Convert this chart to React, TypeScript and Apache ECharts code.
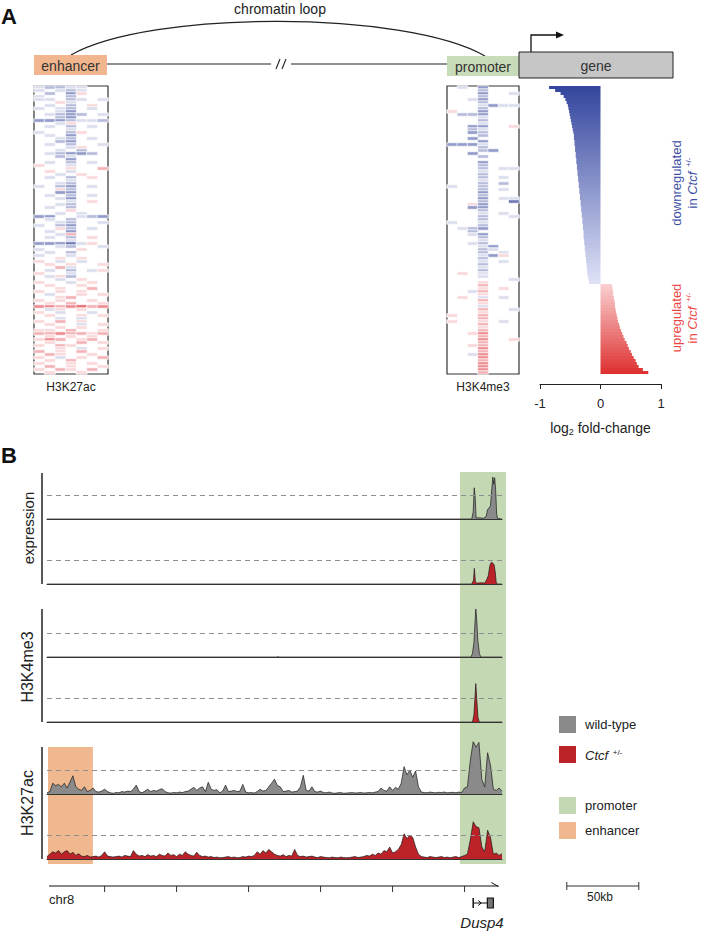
import React, { useEffect, useRef } from "react";
import * as echarts from "echarts";

const FONT = '"Liberation Sans", Arial, Helvetica, sans-serif';

// ---------- Panel A: heatmaps (rows sorted like the fold-change bars) ----------
// '.' = 0, '1'..'4' = -0.25..-1 (blue), 'a'..'d' = 0.25..1 (red)
const heatCode: Record<string, number> = {
  ".": 0, "1": -0.25, "2": -0.5, "3": -0.75, "4": -1,
  a: 0.25, b: 0.5, c: 0.75, d: 1,
};
const heatColumns = ["-3", "-2", "-1", "0", "1", "2", "3"];

const enhancerRows = [
  "12211..", "1.121..", ".2.3a..", "1..2...", "11.21.1", "..a1...", ".1.2.a.", "1.12.1.",
  "..13...", ".1232.1", "..23...", "3332112", "..1a...", ".1.2.1.", "...1...", "1..2a..",
  ".1.3...", "..12.1.", "..23...", ".1.2..1", "...1a..", "..1.2..", ".12332.", "..21...",
  "...3...", ".1.2.1.", "a..1...", "...a..b", ".a.1...", "..1.a..", ".1.2.a.", "...1...",
  "..12...", "1.23.1.", "..a2...", "..33...", ".1.2.1.", "..13...", "...1.a.", "..12...",
  ".1.2...", "...a...", "..1.1..", "33..123", ".1.2...", "..12..1", "1.23...", "..a2.1.",
  ".1.3...", "..1b...", ".1.2.a.", "...1...", "33341a.", "..12..1", "1...a..", ".1.2...",
  "1..1...", "..a.a..", "a.1.1..", ".a.a..a", "..b1...", ".1.2.1a", "a..1...", ".1a2...",
  "..1.a..", "a..1.a.", ".a..a..", "..a..b.", "a.a.a..", ".1..a.a", "..ab...", "a.a..a.",
  ".a.b..a", "ccbcdbc", ".1a.a..", "a.1..1.", ".a..a.a", "..1.1..", "a.b.a..", ".a..1.a",
  "..a.a..", "aa.b..a", "bbcbbab", ".a.a.a.", "acb.ab.", ".a..b.a", "a.ba...", "..a.1.a",
  "b.a.b..", ".ba..a.", "a.1.a.b", ".a.b...", "a..a.a.", ".b.a..a", "a.ba.b.", ".a..a..",
];

const promoterRows = [
  ".1.3...", "...2...", "...3..1", "...2...", "..13...", "...2...", "...1311", "...2...",
  "a..3...", ".223...", "...1...", "...2...", "...1...", "..33..a", "..21...", "..32...",
  "...2...", "..3....", "...3...", "3331...", "...2...", "...23..", "..3....", "...2...",
  ".......", "...3...", "...2...", "...2.11", "...1...", "...2...", "...2.1.", "...1...",
  "...2.2.", "1..2...", "...2.1.", "...3...", "...2...", "...3.11", "...2..4", "..a3...",
  "..33...", "...2...", "...1.1.", "...2..1", "...2...", "1..1...", "...2...", ".123...",
  "..2....", "..13...", "...2...", "...1...", "..12...", "...13..", "...21..", "...2.1.",
  "...13a.", "...2...", "...1.1.", "...2...", "...1...", "...2...", ".a.1...", "...1...",
  "......1", "...a...", "...b...", "...a.a.", "..1b...", "...a...", ".a.1.1.", "...b...",
  "...a...", "...1...", "...b..1", "...a...", "a..b...", "...b...", "a..a.1.", "...b...",
  "...a...", "...b...", "..ac...", "...b...", "...c..a", "...b...", "..ab...", "...c...",
  "...b...", "..1c...", "...c...", "...b...", "...c...", "...c...", "...c...", "...b...",
];

// ---------- Panel A: log2 fold-change bars ----------
const downregulated = [
  -0.85, -0.75, -0.66, -0.61, -0.58, -0.56,
  -0.54, -0.53, -0.52, -0.51, -0.5,
  -0.49, -0.48, -0.47, -0.46, -0.45,
  -0.44, -0.44, -0.43, -0.43, -0.42, -0.42, -0.41, -0.41, -0.4, -0.4,
  -0.39, -0.39, -0.38, -0.38, -0.37, -0.37, -0.36, -0.36, -0.35, -0.35, -0.34, -0.34, -0.33, -0.33, -0.32,
  -0.32, -0.31, -0.31, -0.3, -0.3, -0.29, -0.29, -0.28, -0.28, -0.28, -0.27, -0.27, -0.26, -0.26, -0.25,
  -0.25, -0.24, -0.24, -0.23, -0.23, -0.22, -0.22,
  -0.21, -0.2, -0.19,
];
const upregulated = [
  0.19, 0.2, 0.21, 0.21,
  0.22, 0.23, 0.24, 0.24, 0.25, 0.26,
  0.27, 0.28, 0.29, 0.31, 0.32,
  0.34, 0.36, 0.38, 0.4, 0.43,
  0.45, 0.47, 0.5, 0.52,
  0.55, 0.58, 0.6, 0.63,
  0.7, 0.79,
];
const foldChange = [...downregulated, ...upregulated];
const geneIds = foldChange.map((_, i) => "g" + i);

// ---------- Panel B: tracks (x in kb, y in units of the dashed line) ----------
const expressionWT: [number, number][] = [
  [0, 0], [295, 0], [296, 0.3], [296.7, 1.3], [297.4, 0.9], [298, 0.05], [300, 0.05], [303, 0.03],
  [305, 0.1], [306, 0.4], [307, 0.45], [308, 0.55], [309, 1.3], [309.6, 1.75], [310.3, 1.45],
  [310.9, 1.72], [311.6, 1.2], [312.3, 0.2], [313, 0.02], [316, 0],
];
const expressionCtcf: [number, number][] = [
  [0, 0], [295, 0], [296.2, 0.15], [296.8, 0.65], [297.5, 0.1], [298.5, 0.03], [301, 0.05], [304, 0.04],
  [305.5, 0.2], [306.5, 0.35], [307.5, 0.75], [308.5, 0.9], [309.5, 0.88], [310.5, 0.8], [311.3, 0.5],
  [312, 0.05], [313, 0], [316, 0],
];
const h3k4me3WT: [number, number][] = [
  [0, 0], [160, 0], [160.5, 0.03], [161, 0], [294.5, 0], [295.5, 0.15], [296.5, 0.6], [297.3, 1.5],
  [297.8, 2.0], [298.4, 1.6], [299.2, 0.7], [300.3, 0.15], [301.3, 0], [316, 0],
];
const h3k4me3Ctcf: [number, number][] = [
  [0, 0], [295.5, 0], [296.5, 0.3], [297.3, 1.1], [297.8, 1.6], [298.4, 1.0], [299.3, 0.2], [300.2, 0], [316, 0],
];
const binKb = 2;
const h3k27acWT = [
  0.05, 0.1, 0.45, 0.35, 0.4, 0.3, 0.45, 0.25, 0.5, 0.76,
  0.3, 0.2, 0.15, 0.3, 0.1, 0.15, 0.25, 0.1, 0.08, 0.12,
  0.2, 0.1, 0.05, 0.03, 0.06, 0.05, 0.1, 0.08, 0.12, 0.1,
  0.2, 0.37, 0.1, 0.05, 0.12, 0.2, 0.1, 0.15, 0.12, 0.18,
  0.22, 0.1, 0.05, 0.04, 0.06, 0.05, 0.08, 0.06, 0.1, 0.12,
  0.2, 0.28, 0.15, 0.25, 0.3, 0.1, 0.49, 0.2, 0.15, 0.18,
  0.05, 0.12, 0.37, 0.1, 0.12, 0.15, 0.1, 0.12, 0.4, 0.08,
  0.05, 0.06, 0.04, 0.1, 0.2, 0.12, 0.15, 0.3, 0.45, 0.62,
  0.35, 0.3, 0.1, 0.12, 0.15, 0.08, 0.1, 0.12, 0.3, 0.78,
  0.15, 0.12, 0.3, 0.1, 0.08, 0.12, 0.06, 0.05, 0.08, 0.04,
  0.03, 0.05, 0.06, 0.03, 0.04, 0.05, 0.06, 0.04, 0.05, 0.06,
  0.04, 0.05, 0.06, 0.05, 0.08, 0.1, 0.25, 0.15, 0.12, 0.3,
  0.15, 0.28, 0.2, 0.45, 1.14, 0.8, 1.0, 0.7, 0.96, 0.3,
  0.08, 0.06, 0.05, 0.08, 0.06, 0.05, 0.07, 0.06, 0.08, 0.05,
  0.06, 0.07, 0.05, 0.08, 0.06, 0.25, 0.3, 1.4, 2.18, 1.95,
  2.15, 0.6, 0.3, 1.72, 1.2, 0.2, 0.15, 0.25, 0.12,
];
const h3k27acCtcf = [
  0.1, 0.2, 0.3, 0.25, 0.35, 0.2, 0.3, 0.35, 0.2, 0.28,
  0.15, 0.22, 0.12, 0.1, 0.15, 0.08, 0.1, 0.12, 0.08, 0.15,
  0.3, 0.12, 0.1, 0.08, 0.1, 0.12, 0.08, 0.15, 0.12, 0.1,
  0.35, 0.2, 0.12, 0.15, 0.1, 0.18, 0.12, 0.15, 0.1, 0.2,
  0.15, 0.12, 0.25, 0.15, 0.18, 0.1, 0.2, 0.15, 0.3, 0.2,
  0.15, 0.12, 0.28, 0.15, 0.1, 0.12, 0.08, 0.1, 0.06, 0.08,
  0.05, 0.06, 0.08, 0.1, 0.06, 0.08, 0.05, 0.06, 0.1, 0.08,
  0.12, 0.1, 0.15, 0.3, 0.2, 0.35, 0.25, 0.4, 0.3, 0.2,
  0.15, 0.12, 0.18, 0.1, 0.15, 0.12, 0.4, 0.15, 0.1, 0.12,
  0.08, 0.1, 0.12, 0.08, 0.06, 0.1, 0.08, 0.06, 0.05, 0.08,
  0.06, 0.05, 0.08, 0.06, 0.05, 0.06, 0.08, 0.1, 0.06, 0.08,
  0.1, 0.15, 0.12, 0.2, 0.15, 0.25, 0.2, 0.35, 0.3, 0.5,
  0.25, 0.3, 0.4, 0.6, 1.05, 0.85, 1.0, 0.9, 0.5, 0.2,
  0.1, 0.08, 0.06, 0.1, 0.08, 0.06, 0.08, 0.1, 0.06, 0.08,
  0.05, 0.08, 0.1, 0.06, 0.1, 0.15, 0.2, 0.8, 1.55, 1.35,
  1.3, 0.5, 0.3, 1.2, 0.9, 0.2, 0.25, 0.15, 0.22,
];

const trackRange = [0, 316]; // kb
const promoterRegion = [286.8, 318.8, 1];
const enhancerRegion = [0.7, 31.9, 0.2985];
const chrTicks = [40, 90, 140, 190, 240, 290];
const chrAxisSpan = [1.4, 313.5];
const dusp4Gene = [296, 310];
const scaleBarKb = [361, 411];

// ---------- layout / style ----------
const WT_FILL = "#8a8a8a";
const CTCF_FILL = "#bc2329";
const PROMOTER_FILL = "#c5d8b4";
const ENHANCER_FILL = "#f0b88e";
const BLUE_TXT = "#3d4fa6";
const RED_TXT = "#ee4646";

const trackBaselines = [519, 584, 657, 722, 794, 859];
const TRACK_H = 56;
const UNIT_PX = 24;
const TRACK_LEFT = 47;
const TRACK_W = 455;

function heatData(rows: string[]) {
  const out: number[][] = [];
  rows.forEach((s, r) => {
    s.split("").forEach((ch, c) => {
      const v = heatCode[ch];
      if (v) out.push([c, r, v]);
    });
  });
  return out;
}

function mix(a: number[], b: number[], t: number) {
  const c = a.map((v, i) => Math.round(v + (b[i] - v) * t));
  return `rgb(${c[0]},${c[1]},${c[2]})`;
}

function txt(text: string, x: number, y: number, size: number, o: any = {}) {
  const font = `${o.italic ? "italic " : ""}${o.bold ? "bold " : ""}${size}px ${FONT}`;
  return {
    type: "text",
    x,
    y,
    rotation: o.rotation || 0,
    silent: true,
    z: 10,
    style: {
      text,
      x: 0,
      y: 0,
      fill: o.fill || "#222",
      font,
      align: o.align || "center",
      verticalAlign: "middle",
      textAlign: o.align || "center",
      textVerticalAlign: "middle",
      lineHeight: o.lineHeight,
      rich: o.rich,
    },
  };
}

function ctcfRich(size: number, fill: string) {
  return {
    i: { fontStyle: "italic", fontSize: size, fontFamily: FONT, fill },
    s: { fontSize: Math.round(size * 0.6), fontFamily: FONT, fill, verticalAlign: "top", padding: [0, 0, 0, 1] },
  };
}

const line = (x1: number, y1: number, x2: number, y2: number, w = 1, c = "#222") => ({
  type: "line",
  silent: true,
  shape: { x1, y1, x2, y2 },
  style: { stroke: c, lineWidth: w },
});
const rect = (x: number, y: number, w: number, h: number, fill: string, stroke?: string) => ({
  type: "rect",
  silent: true,
  shape: { x, y, width: w, height: h },
  style: { fill, stroke: stroke || null, lineWidth: stroke ? 1 : 0 },
});

export default function App() {
  const ref = useRef<HTMLDivElement>(null);

  useEffect(() => {
    if (!ref.current) return;
    const chart = echarts.init(ref.current, undefined, { renderer: "svg" });

    const grids: any[] = [
      { left: 34, top: 86, width: 74, height: 288, show: true, borderColor: "#333", borderWidth: 1.2, backgroundColor: "#fff" },
      { left: 447, top: 86, width: 72, height: 288, show: true, borderColor: "#333", borderWidth: 1.2, backgroundColor: "#fff" },
      { left: 540, top: 86, width: 121, height: 288 },
    ];
    trackBaselines.forEach((b) => grids.push({ left: TRACK_LEFT, top: b - TRACK_H, width: TRACK_W, height: TRACK_H }));
    grids.push({ left: TRACK_LEFT, top: 472, width: TRACK_W, height: 392 }); // 9 regions
    grids.push({ left: TRACK_LEFT, top: 886, width: TRACK_W, height: 10 }); // 10 chr axis

    const xAxes: any[] = [
      { gridIndex: 0, type: "category", data: heatColumns, show: false },
      { gridIndex: 1, type: "category", data: heatColumns, show: false },
      {
        gridIndex: 2, type: "value", min: -1, max: 1, interval: 1, position: "bottom", offset: 10,
        axisLine: { show: true, lineStyle: { color: "#222", width: 1 } },
        axisTick: { show: true, length: 5, lineStyle: { color: "#222" } },
        axisLabel: { show: true, margin: 13, fontSize: 13, color: "#222", fontFamily: FONT },
        splitLine: { show: false },
        name: "log{s|2} fold-change", nameLocation: "middle", nameGap: 35,
        nameTextStyle: {
          fontSize: 14, color: "#222", fontFamily: FONT,
          rich: { s: { fontSize: 9, color: "#222", fontFamily: FONT, verticalAlign: "bottom", padding: [8, 0, 0, 0] } },
        },
      },
    ];
    const yAxes: any[] = [
      { gridIndex: 0, type: "category", data: enhancerRows.map((_, i) => "r" + i), inverse: true, show: false },
      { gridIndex: 1, type: "category", data: promoterRows.map((_, i) => "r" + i), inverse: true, show: false },
      { gridIndex: 2, type: "category", data: geneIds, inverse: true, show: false },
    ];
    for (let i = 0; i < 6; i++) {
      xAxes.push({
        gridIndex: 3 + i, type: "value", min: trackRange[0], max: trackRange[1], z: 3,
        axisLine: { show: true, onZero: false, lineStyle: { color: "#333", width: 1 } },
        axisTick: { show: false }, axisLabel: { show: false }, splitLine: { show: false },
      });
      yAxes.push({ gridIndex: 3 + i, type: "value", min: 0, max: TRACK_H / UNIT_PX, show: false });
    }
    xAxes.push({ gridIndex: 9, type: "value", min: trackRange[0], max: trackRange[1], show: false });
    yAxes.push({ gridIndex: 9, type: "value", min: 0, max: 1, show: false });
    xAxes.push({ gridIndex: 10, type: "value", min: trackRange[0], max: trackRange[1], show: false });
    yAxes.push({ gridIndex: 10, type: "value", min: 0, max: 1, show: false });

    const nDown = downregulated.length;
    const nUp = upregulated.length;

    const trackDefs: { data: number[][]; fill: string }[] = [
      { data: expressionWT, fill: WT_FILL },
      { data: expressionCtcf, fill: CTCF_FILL },
      { data: h3k4me3WT, fill: WT_FILL },
      { data: h3k4me3Ctcf, fill: CTCF_FILL },
      { data: h3k27acWT.map((v, i) => [i * binKb, v]), fill: WT_FILL },
      { data: h3k27acCtcf.map((v, i) => [i * binKb, v]), fill: CTCF_FILL },
    ];

    const heatItem = { borderColor: "#ffffff", borderWidth: 0.7 };

    const series: any[] = [
      { type: "heatmap", xAxisIndex: 0, yAxisIndex: 0, data: heatData(enhancerRows), silent: true, itemStyle: heatItem },
      { type: "heatmap", xAxisIndex: 1, yAxisIndex: 1, data: heatData(promoterRows), silent: true, itemStyle: heatItem },
      {
        type: "bar", xAxisIndex: 2, yAxisIndex: 2, data: foldChange, barCategoryGap: "0%", silent: true,
        itemStyle: {
          color: (p: any) => {
            const i = p.dataIndex;
            if (i < nDown) return mix([52, 70, 158], [222, 225, 246], i / (nDown - 1));
            return mix([250, 206, 206], [222, 50, 50], (i - nDown) / (nUp - 1));
          },
        },
      },
      {
        type: "custom", xAxisIndex: 9, yAxisIndex: 9, z: 1, silent: true,
        data: [promoterRegion, enhancerRegion],
        renderItem: (params: any, api: any) => {
          const p0 = api.coord([api.value(0), api.value(2)]);
          const p1 = api.coord([api.value(1), 0]);
          return {
            type: "rect",
            shape: { x: p0[0], y: p0[1], width: p1[0] - p0[0], height: p1[1] - p0[1] },
            style: { fill: params.dataIndex === 0 ? PROMOTER_FILL : ENHANCER_FILL },
          };
        },
      },
    ];
    trackDefs.forEach((t, i) => {
      series.push({
        type: "line", xAxisIndex: 3 + i, yAxisIndex: 3 + i, data: t.data, z: 2, silent: true,
        showSymbol: false, symbol: "none",
        lineStyle: { color: "#1a1a1a", width: 0.7 },
        areaStyle: { color: t.fill, opacity: 1 },
        markLine: {
          silent: true, symbol: ["none", "none"], label: { show: false },
          lineStyle: { color: "#8f8f8f", type: [5, 4], width: 1 },
          data: [{ yAxis: 1 }],
        },
      });
    });
    // chromosome axis line
    series.push({
      type: "custom", xAxisIndex: 10, yAxisIndex: 10, silent: true,
      data: [[chrAxisSpan[0], chrAxisSpan[1]]],
      renderItem: (_p: any, api: any) => {
        const a = api.coord([api.value(0), 1]);
        const b = api.coord([api.value(1), 1]);
        return {
          type: "group",
          children: [
            { type: "line", shape: { x1: a[0], y1: a[1], x2: b[0], y2: b[1] }, style: { stroke: "#111", lineWidth: 1.2 } },
            { type: "line", shape: { x1: b[0] - 7, y1: a[1] - 3.5, x2: b[0], y2: a[1] + 0.5 }, style: { stroke: "#111", lineWidth: 1 } },
          ],
        };
      },
    });
    series.push({
      type: "custom", xAxisIndex: 10, yAxisIndex: 10, silent: true,
      data: chrTicks.map((t) => [t, 1]),
      renderItem: (_p: any, api: any) => {
        const a = api.coord([api.value(0), 1]);
        return { type: "line", shape: { x1: a[0], y1: a[1], x2: a[0], y2: a[1] + 6 }, style: { stroke: "#333", lineWidth: 1 } };
      },
    });
    series.push({
      type: "custom", xAxisIndex: 10, yAxisIndex: 10, silent: true,
      data: [[dusp4Gene[0], dusp4Gene[1]]],
      renderItem: (_p: any, api: any) => {
        const a = api.coord([api.value(0), 0]);
        const b = api.coord([api.value(1), 0]);
        const y0 = a[1] + 2, y1 = a[1] + 12, ym = a[1] + 7;
        return {
          type: "group",
          children: [
            { type: "line", shape: { x1: a[0], y1: y0, x2: a[0], y2: y1 }, style: { stroke: "#111", lineWidth: 1.5 } },
            { type: "line", shape: { x1: a[0], y1: ym, x2: b[0] - 6, y2: ym }, style: { stroke: "#111", lineWidth: 1 } },
            { type: "polyline", shape: { points: [[a[0] + 5, ym - 2.5], [a[0] + 8, ym], [a[0] + 5, ym + 2.5]] }, style: { stroke: "#111", lineWidth: 1, fill: "none" } },
            { type: "rect", shape: { x: b[0] - 6, y: y0, width: 6, height: 10 }, style: { fill: "#777", stroke: "#111", lineWidth: 1.2 } },
          ],
        };
      },
    });
    series.push({
      type: "custom", xAxisIndex: 10, yAxisIndex: 10, silent: true,
      data: [[scaleBarKb[0], scaleBarKb[1]]],
      renderItem: (_p: any, api: any) => {
        const a = api.coord([api.value(0), 1]);
        const b = api.coord([api.value(1), 1]);
        return {
          type: "group",
          children: [
            { type: "line", shape: { x1: a[0], y1: a[1], x2: b[0], y2: b[1] }, style: { stroke: "#333", lineWidth: 1 } },
            { type: "line", shape: { x1: a[0], y1: a[1] - 4, x2: a[0], y2: a[1] + 4 }, style: { stroke: "#333", lineWidth: 1 } },
            { type: "line", shape: { x1: b[0], y1: b[1] - 4, x2: b[0], y2: b[1] + 4 }, style: { stroke: "#333", lineWidth: 1 } },
          ],
        };
      },
    });

    const graphic: any[] = [
      // Panel A schematic
      txt("A", 9, 16, 22, { bold: true, fill: "#111" }),
      txt("chromatin loop", 280, 9, 14),
      {
        type: "bezierCurve", silent: true,
        shape: { x1: 71, y1: 55, cpx1: 150, cpy1: 10, cpx2: 405, cpy2: 10, x2: 485, y2: 56 },
        style: { stroke: "#222", lineWidth: 1.3, fill: "none" },
      },
      line(107, 64, 271, 64, 1.2),
      line(291, 64, 447, 64, 1.2),
      line(276, 69, 280, 59, 1.1),
      line(282, 69, 286, 59, 1.1),
      rect(34, 55, 73, 20, "#f2b68e"),
      txt("enhancer", 70.5, 65.5, 14, { fill: "#333" }),
      rect(447, 56, 72, 20, "#c9dcb9"),
      txt("promoter", 483, 66.5, 14, { fill: "#333" }),
      rect(519, 52, 154, 26, "#c6c6c6", "#222"),
      txt("gene", 596, 65.5, 14, { fill: "#333" }),
      { type: "polyline", silent: true, shape: { points: [[531, 52], [531, 35], [557, 35]] }, style: { stroke: "#111", lineWidth: 1.3, fill: "none" } },
      { type: "polygon", silent: true, shape: { points: [[556, 31.5], [564, 35], [556, 38.5]] }, style: { fill: "#111" } },
      txt("H3K27ac", 71, 387, 12),
      txt("H3K4me3", 483, 387, 12),
      txt("downregulated\nin {i|Ctcf} {s|+/-}", 684, 183, 13, {
        rotation: Math.PI / 2, fill: BLUE_TXT, lineHeight: 16, rich: ctcfRich(13, BLUE_TXT),
      }),
      txt("upregulated\nin {i|Ctcf} {s|+/-}", 684, 318, 13, {
        rotation: Math.PI / 2, fill: RED_TXT, lineHeight: 16, rich: ctcfRich(13, RED_TXT),
      }),
      // Panel B
      txt("B", 9, 455, 22, { bold: true, fill: "#111" }),
      line(42, 473, 42, 584, 1.5),
      line(42, 609, 42, 722, 1.5),
      line(42, 747, 42, 859, 1.5),
      txt("expression", 28, 528, 15, { rotation: Math.PI / 2 }),
      txt("H3K4me3", 27, 667, 16, { rotation: Math.PI / 2 }),
      txt("H3K27ac", 27, 803, 16, { rotation: Math.PI / 2 }),
      txt("chr8", 49, 899, 13, { align: "left" }),
      txt("Dusp4", 482, 922, 15, { italic: true }),
      txt("50kb", 600, 897, 12),
      // legend
      rect(559, 716, 17, 17, WT_FILL),
      txt("wild-type", 585, 724.5, 13, { align: "left" }),
      rect(559, 746, 17, 17, CTCF_FILL),
      txt("{i|Ctcf} {s|+/-}", 585, 755, 13, { align: "left", rich: ctcfRich(13, "#222") }),
      rect(559, 797, 17, 17, PROMOTER_FILL),
      txt("promoter", 585, 805.5, 13, { align: "left" }),
      rect(559, 822, 17, 17, ENHANCER_FILL),
      txt("enhancer", 585, 830.5, 13, { align: "left" }),
    ];

    chart.setOption({
      animation: false,
      backgroundColor: "#fff",
      textStyle: { fontFamily: FONT },
      grid: grids,
      xAxis: xAxes,
      yAxis: yAxes,
      visualMap: {
        show: false, type: "continuous", seriesIndex: [0, 1], dimension: 2, min: -1.4, max: 1.4,
        inRange: { color: ["#34449a", "#ffffff", "#de2b33"] },
      },
      series,
      graphic,
    });

    return () => chart.dispose();
  }, []);

  return (
    <div
      ref={ref}
      style={{ position: "absolute", left: 0, top: 0, width: 705, height: 931, background: "#fff" }}
    />
  );
}
